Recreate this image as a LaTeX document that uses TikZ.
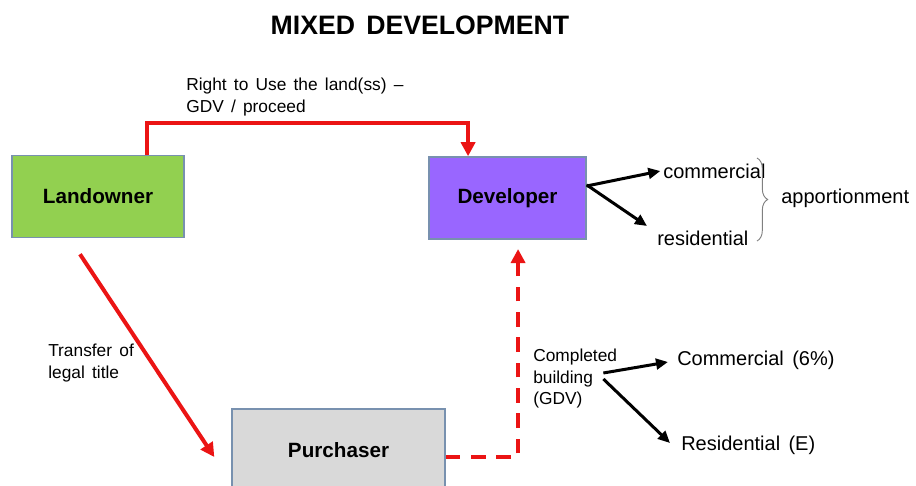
\documentclass[tikz,border=0pt]{standalone}
\usepackage{fontspec}
\setmainfont{Liberation Sans}[WordSpace=1.5]
\usetikzlibrary{arrows.meta,decorations.pathreplacing}
\definecolor{landgreen}{RGB}{146,208,80}
\definecolor{devpurple}{RGB}{153,102,255}
\definecolor{buyergray}{RGB}{217,217,217}
\definecolor{boxedge}{RGB}{120,145,175}
\definecolor{linkred}{RGB}{235,20,20}
\tikzset{
  party/.style={draw=boxedge,line width=1.1pt,font=\fontsize{15.5}{18}\selectfont\bfseries,minimum height=61.5pt},
  redlink/.style={draw=linkred,line width=3pt,-{Triangle[length=10.5pt,width=10.5pt]}},
  blacklink/.style={line width=2.25pt,-{Triangle[length=9pt,width=8pt]}},
  note/.style={inner sep=0pt,align=left,font=\fontsize{13}{16}\selectfont},
  share/.style={inner sep=0pt,font=\fontsize{15}{18}\selectfont},
}
\begin{document}
\begin{tikzpicture}[x=0.75pt,y=-0.75pt]
      \useasboundingbox (0,0) rectangle (916,485);
      \node [font=\fontsize{20}{24}\selectfont\bfseries] (title) at (420,25) {MIXED DEVELOPMENT};

      \node [party,fill=landgreen,minimum width=129pt] (1) at (98,196.5) {Landowner};
      \node [party,fill=devpurple,minimum width=117.75pt,right of=1,xshift=278.7pt,yshift=-1.1pt] (2) {Developer};
      \node [party,fill=buyergray,minimum width=159.75pt,below of=1,xshift=180.4pt,yshift=-161.7pt] (3) {Purchaser};

      \node [note,anchor=north west] (right) at (186,78) {Right to Use the land(ss) –\\GDV / proceed};
      \node [note,anchor=north west] (transfer) at (48,344) {Transfer of\\legal title};
      \node [note,anchor=north west] (gdv) at (533,349) {Completed\\building\\(GDV)};

      \node [share,anchor=west] (com) at (663,171) {commercial};
      \node [share,anchor=west] (res) at (657,238) {residential};
      \node [share,anchor=west] (app) at (781,198) {apportionment};
      \node [share,anchor=west] (c6) at (677,360) {Commercial (6\%)};
      \node [share,anchor=west] (rE) at (681,445) {Residential (E)};

      \draw[redlink] ([xshift=36.75pt]1.north) -- ++(0,-32) -| ([xshift=-29.6pt]2.north);
      \draw[redlink] ([xshift=-13.5pt,yshift=-12pt]1.south) -- ([xshift=-12.75pt,yshift=-5.25pt]3.west);
      \draw[redlink,dash pattern=on 11pt off 8pt] ([yshift=-5.25pt]3.east) -| ([xshift=7.9pt,yshift=-7pt]2.south);

      \draw[blacklink] ([yshift=9pt]2.east) -- ([xshift=-2pt]com.west);
      \draw[blacklink] ([yshift=9.75pt]2.east) -- ([xshift=-7.5pt,yshift=9pt]res.west);
      \draw[blacklink] ([xshift=-10.5pt,yshift=-18pt]gdv.north east) -- ([xshift=-6.75pt,yshift=-1.5pt]c6.west);
      \draw[blacklink] ([xshift=-10.5pt,yshift=-22.5pt]gdv.north east) -- ([xshift=-8.25pt,yshift=1.5pt]rE.west);

      \draw[gray,line width=0.7pt,decorate,decoration={brace,amplitude=8pt}] (757,158) -- (757,241);
    \end{tikzpicture}
\end{document}
